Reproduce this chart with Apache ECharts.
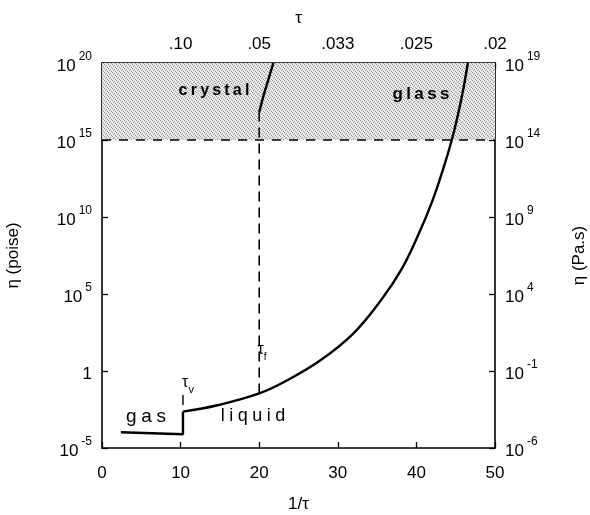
<!DOCTYPE html>
<html><head><meta charset="utf-8">
<script src="https://cdn.jsdelivr.net/npm/echarts@6/dist/echarts.min.js"></script>
<style>html,body{margin:0;background:#fff}#c{width:590px;height:515px}</style>
</head><body><div id="c"></div>
<script>
// ---- data ----
const xTicks = [0, 10, 20, 30, 40, 50];
const tauLabels = ['', '.10', '.05', '.033', '.025', '.02'];
const gasX = [2.4, 10.3, 10.3];
const gasEta = [1.05e-4, 7.9e-5, 2.3e-3];
const liquidX = [10.3, 14.7, 20, 23.5, 27.7, 31.9, 35.5, 38.1, 40.2, 42.0, 43.4, 44.5, 45.4, 46.0, 46.55];
const liquidEta = [2.3e-3, 6.0e-3, 3.5e-2, 0.24, 4.6, 250, 4.0e4, 4.0e6, 6.3e8, 1e11, 1.3e13, 1e15, 8e16, 2.5e18, 1e20];
const tauFX = [20, 20];
const tauFEta = [3.5e-2, 6.3e16];
const crystalX = [20, 20.5, 21.8];
const crystalEta = [6.3e16, 6.3e17, 1e20];
const tauVX = [10.3, 10.3];
const tauVEta = [6.3e-3, 2.8e-2];
const glassLimit = 1e15;
const yMin = 1e-5, yMax = 1e20;

const F = 'Liberation Sans';
const zip = (xs, ys) => xs.map((x, i) => [x, ys[i]]);
const rich = {
  b: {fontSize: 17, fontFamily: F, color: '#000', lineHeight: 24, verticalAlign: 'bottom'},
  s: {fontSize: 12, fontFamily: F, color: '#000', lineHeight: 24, verticalAlign: 'top', padding: [0, 0, 0, 3]}
};
function powLabel(v, shift) {
  const e = Math.round(Math.log10(v)) + shift;
  if (e === 0) return '{b|1}';
  return '{b|10}{s|' + e + '}';
}
const sp = s => s.split('').join('\u2009');
const sp4 = s => s.split('').join('\u2005');

// stipple pattern
const pc = document.createElement('canvas');
pc.width = 4; pc.height = 4;
const px = pc.getContext('2d');
px.fillStyle = '#e8e8e8'; px.fillRect(0, 0, 4, 4);
px.fillStyle = '#9a9a9a';
px.fillRect(0, 0, 1, 1); px.fillRect(2, 1, 1, 1); px.fillRect(1, 2, 1, 1); px.fillRect(3, 3, 1, 1);

const chart = echarts.init(document.getElementById('c'));
const axisCommon = {
  axisLine: {show: true, onZero: false, lineStyle: {color: '#000', width: 1.6}},
  axisTick: {show: true, inside: true, length: 6, lineStyle: {color: '#000', width: 1.3}},
  splitLine: {show: false},
  nameTextStyle: {fontFamily: F, fontSize: 17, color: '#000'}
};
const lineS = (name, data, extra) => Object.assign({
  type: 'line', name, data, symbol: 'none', z: 5,
  lineStyle: {color: '#000', width: 2.4}, animation: false
}, extra || {});

chart.setOption({
  backgroundColor: '#fff',
  animation: false,
  grid: {left: 102, right: 95, top: 63, bottom: 67, containLabel: false, outerBoundsMode: 'none'},
  xAxis: [
    Object.assign({}, axisCommon, {
      type: 'value', min: 0, max: 50, interval: 10, position: 'bottom',
      name: '1/τ', nameLocation: 'middle', nameGap: 48,
      axisLabel: {fontFamily: F, fontSize: 17, color: '#000', margin: 17}
    }),
    Object.assign({}, axisCommon, {
      type: 'value', min: 0, max: 50, interval: 10, position: 'top',
      name: 'τ', nameLocation: 'middle', nameGap: 36,
      axisLabel: {fontFamily: F, fontSize: 17, color: '#000', margin: 10,
        formatter: v => tauLabels[xTicks.indexOf(v)] || ''}
    })
  ],
  yAxis: [
    Object.assign({}, axisCommon, {
      type: 'log', logBase: 100000, min: yMin, max: yMax, splitNumber: 5, position: 'left',
      name: 'η (poise)', nameLocation: 'middle', nameGap: 80, nameRotate: 90,
      axisLabel: {margin: 10, formatter: v => powLabel(v, 0), rich}
    }),
    Object.assign({}, axisCommon, {
      type: 'log', logBase: 100000, min: yMin, max: yMax, splitNumber: 5, position: 'right',
      name: 'η (Pa.s)', nameLocation: 'middle', nameGap: 76, nameRotate: 90,
      axisLabel: {margin: 10, formatter: v => powLabel(v, -1), rich}
    })
  ],
  series: [
    lineS('liquid', zip(liquidX, liquidEta), {
      smooth: 0.4,
      markArea: {silent: true, z: 1, itemStyle: {color: {image: pc, repeat: 'repeat'}},
        data: [[{yAxis: glassLimit}, {yAxis: yMax}]]},
      markLine: {silent: true, symbol: 'none', label: {show: false},
        lineStyle: {color: '#000', width: 1.5, type: [9, 8]},
        data: [{yAxis: glassLimit}]}
    }),
    lineS('gas', zip(gasX, gasEta)),
    lineS('crystal', zip(crystalX, crystalEta)),
    lineS('tauF', zip(tauFX, tauFEta), {lineStyle: {color: '#000', width: 1.6, type: [10, 6]}}),
    lineS('tauV', zip(tauVX, tauVEta), {lineStyle: {color: '#000', width: 1.4}})
  ],
  graphic: [
    {type: 'text', x: 146, y: 417, z: 10, style: {text: sp4('gas'), font: '19px ' + F, fill: '#000', align: 'center', verticalAlign: 'middle'}},
    {type: 'text', x: 253, y: 416, z: 10, style: {text: sp4('liquid'), font: '18px ' + F, fill: '#000', align: 'center', verticalAlign: 'middle'}},
    {type: 'text', x: 214, y: 91, z: 10, style: {text: sp('crystal'), font: 'bold 16px ' + F, fill: '#000', align: 'center', verticalAlign: 'middle'}},
    {type: 'text', x: 421, y: 94, z: 10, style: {text: sp('glass'), font: 'bold 17px ' + F, fill: '#000', align: 'center', verticalAlign: 'middle'}},
    {type: 'text', x: 188, y: 385, z: 10, style: {text: '{a|τ}{b|v}', align: 'center', verticalAlign: 'middle',
      rich: {a: {fontSize: 16, fontFamily: F, fill: '#000', lineHeight: 20, verticalAlign: 'top'}, b: {fontSize: 11, fontFamily: F, fill: '#000', lineHeight: 20, verticalAlign: 'bottom'}}}},
    {type: 'text', x: 262, y: 352, z: 10, style: {text: '{a|τ}{b|f}', align: 'center', verticalAlign: 'middle',
      rich: {a: {fontSize: 16, fontFamily: F, fill: '#000', lineHeight: 20, verticalAlign: 'top'}, b: {fontSize: 10, fontFamily: F, fill: '#000', lineHeight: 20, verticalAlign: 'bottom'}}}}
  ]
});
</script></body></html>
